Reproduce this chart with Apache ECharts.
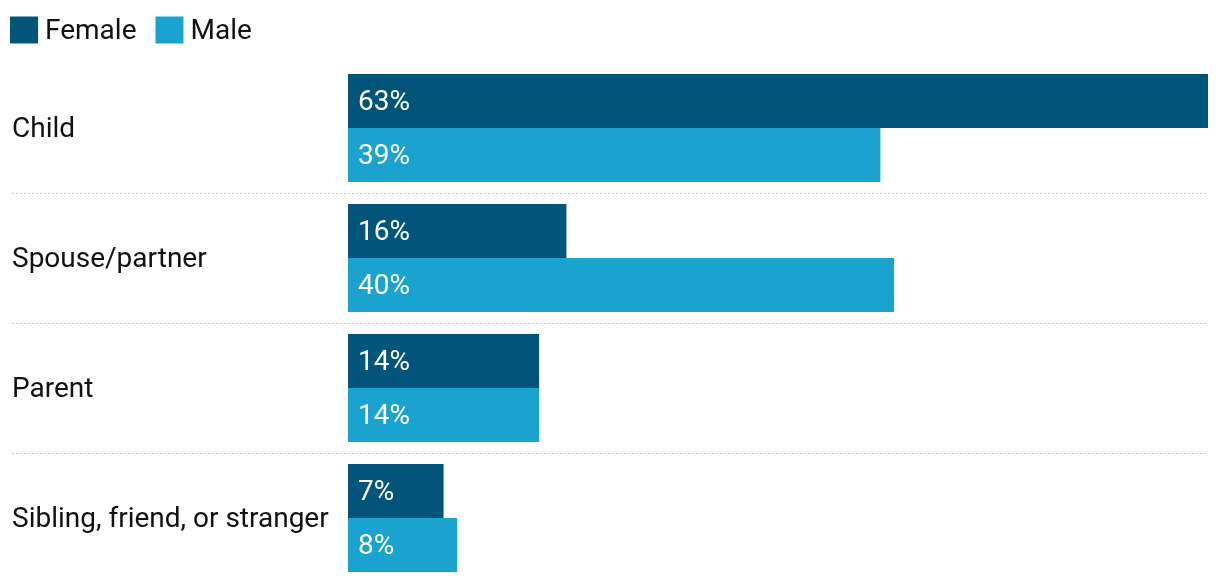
<!DOCTYPE html>
<html>
<head>
<meta charset="utf-8">
<script src="https://cdn.jsdelivr.net/npm/echarts@6/dist/echarts.min.js"></script>
<style>html,body{margin:0;padding:0;background:#fff}#c{width:1220px;height:584px}</style>
</head>
<body>
<div id="c"></div>
<script>
const categories = ["Child", "Spouse/partner", "Parent", "Sibling, friend, or stranger"];
const seriesNames = ["Female", "Male"];
const female = [63, 16, 14, 7];
const male = [39, 40, 14, 8];
const separators = [0, 1, 2];

const chart = echarts.init(document.getElementById('c'), null, {renderer: 'canvas'});
const FONT = 'Roboto';
const option = {
  animation: false,
  color: ['#02547b', '#1ba3cf'],
  textStyle: {fontFamily: FONT},
  legend: {
    left: 10, top: 14, padding: 0,
    itemWidth: 28, itemHeight: 27, itemGap: 19,
    icon: 'rect',
    formatter: n => '{t|' + n + '}',
    textStyle: {
      fontFamily: FONT, fontSize: 28, color: '#111',
      rich: {t: {fontFamily: FONT, fontSize: 28, color: '#111', lineHeight: 28, padding: [4, 0, 0, 2]}}
    },
    data: seriesNames
  },
  grid: [
    {left: 348, right: 12, top: 63, bottom: 1},
    {left: 12, right: 12, top: 193, bottom: 131}
  ],
  xAxis: [
    {gridIndex: 0, type: 'value', min: 0, max: 63, show: false},
    {gridIndex: 1, type: 'value', min: 0, max: 1, show: false}
  ],
  yAxis: [
    {
      gridIndex: 0, type: 'category', data: categories, inverse: true,
      axisLine: {show: false}, axisTick: {show: false}, splitLine: {show: false},
      axisLabel: {
        align: 'left', margin: 336, fontFamily: FONT, fontSize: 28, color: '#111',
        formatter: v => '{t|' + v + '}',
        rich: {t: {fontFamily: FONT, fontSize: 28, color: '#111', padding: [4, 0, 0, 0]}}
      }
    },
    {
      gridIndex: 1, type: 'value', min: 0, max: separators.length - 1, interval: 1,
      axisLine: {show: false}, axisTick: {show: false}, axisLabel: {show: false},
      splitLine: {show: true, lineStyle: {color: '#c8c8c8', width: 1, type: [2, 2]}}
    }
  ],
  series: [
    {
      name: seriesNames[0], type: 'bar', data: female, barWidth: 54, barGap: '0%',
      xAxisIndex: 0, yAxisIndex: 0,
      label: {show: true, position: 'insideLeft', distance: 10, offset: [0, 2], formatter: '{c}%', color: '#fff', fontFamily: FONT, fontSize: 28}
    },
    {
      name: seriesNames[1], type: 'bar', data: male, barWidth: 54, barGap: '0%',
      xAxisIndex: 0, yAxisIndex: 0,
      label: {show: true, position: 'insideLeft', distance: 10, offset: [0, 2], formatter: '{c}%', color: '#fff', fontFamily: FONT, fontSize: 28}
    }
  ]
};
chart.setOption(option);
</script>
</body>
</html>
